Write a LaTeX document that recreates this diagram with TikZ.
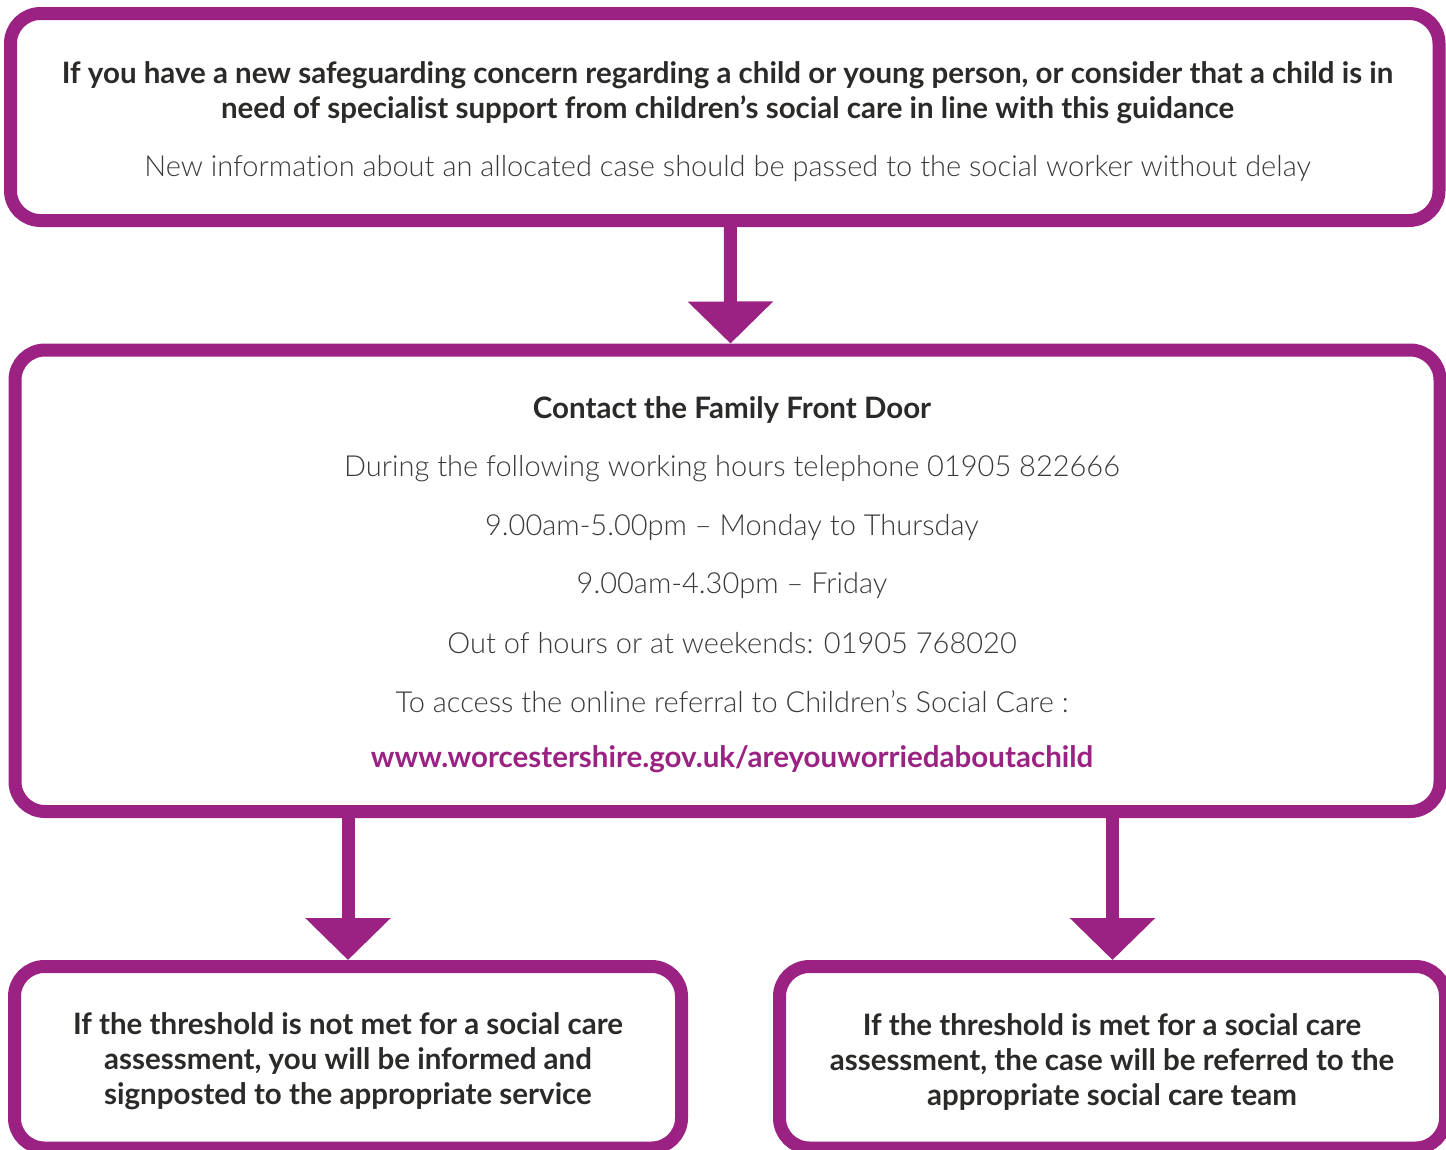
\documentclass[tikz,border=0pt]{standalone}
\usepackage{fontspec}
\setmainfont{Lato}
\newfontfamily\lightfont{Lato Light}[Ligatures=NoCommon]
\usetikzlibrary{arrows.meta}
\definecolor{ffpurple}{HTML}{9B2282}
\definecolor{ffdark}{HTML}{2B2A28}
\definecolor{fflight}{HTML}{3A3A3A}
\tikzset{
  box/.style={draw=ffpurple, line width=13pt, rounded corners=30pt, fill=white, inner sep=0pt},
  flow/.style={draw=ffpurple, line width=13pt, -{Triangle[width=83pt,length=42pt]}},
  boldtxt/.style={font=\bfseries\fontsize{29.5}{35}\selectfont, text=ffdark, align=center, inner sep=0pt},
  lighttxt/.style={font=\lightfont\fontsize{29}{35}\selectfont, text=fflight, align=center, inner sep=0pt},
  urltxt/.style={font=\bfseries\fontsize{29.5}{35}\selectfont, text=ffpurple, align=center, inner sep=0pt}
}
\begin{document}
\begin{tikzpicture}[x=1pt,y=-1pt]
\useasboundingbox (0,0) rectangle (1446,1149);
\clip (0,0) rectangle (1446,1149);
\node[box, minimum width=1428.5pt, minimum height=207pt] (b1) at (724.75,117) {};
\node[box, minimum width=1425pt, minimum height=461.5pt] (b2) at (727.5,580.75) {};
\node[box, minimum width=667pt, minimum height=181.5pt] (b3) at (348,1057.25) {};
\node[box, minimum width=666pt, minimum height=181.5pt] (b4) at (1112.5,1057.25) {};

\draw[flow] ([xshift=5.5pt]b1.south) -- ([xshift=3pt]b2.north);
\draw[flow] (b2.south -| b3.north) -- (b3.north);
\draw[flow] (b2.south -| b4.north) -- (b4.north);

\node[boldtxt] (t1) at (727.5,92.5) {If you have a new safeguarding concern regarding a child or young person, or consider that a child is in\\need of specialist support from children’s social care in line with this guidance};
\node[lighttxt] (t2) at (727.5,168.5) {New information about an allocated case should be passed to the social worker without delay};

\node[boldtxt] (c1) at (732,410) {Contact the Family Front Door};
\node[lighttxt] (c2) at (732,468.5) {During the following working hours telephone 01905 822666};
\node[lighttxt] (c3) at (732,527) {9.00am-5.00pm – Monday to Thursday};
\node[lighttxt] (c4) at (732,585) {9.00am-4.30pm – Friday};
\node[lighttxt] (c5) at (732,643) {Out of hours or at weekends: 01905 768020};
\node[lighttxt] (c6) at (732,701.5) {To access the online referral to Children’s Social Care :};
\node[urltxt] (c7) at (732,759.5) {www.worcestershire.gov.uk/areyouworriedaboutachild};

\node[boldtxt] (l1) at (348,1061.5) {If the threshold is not met for a social care\\assessment, you will be informed and\\signposted to the appropriate service};
\node[boldtxt] (r1) at (1112,1061.5) {If the threshold is met for a social care\\assessment, the case will be referred to the\\appropriate social care team};
\end{tikzpicture}
\end{document}
